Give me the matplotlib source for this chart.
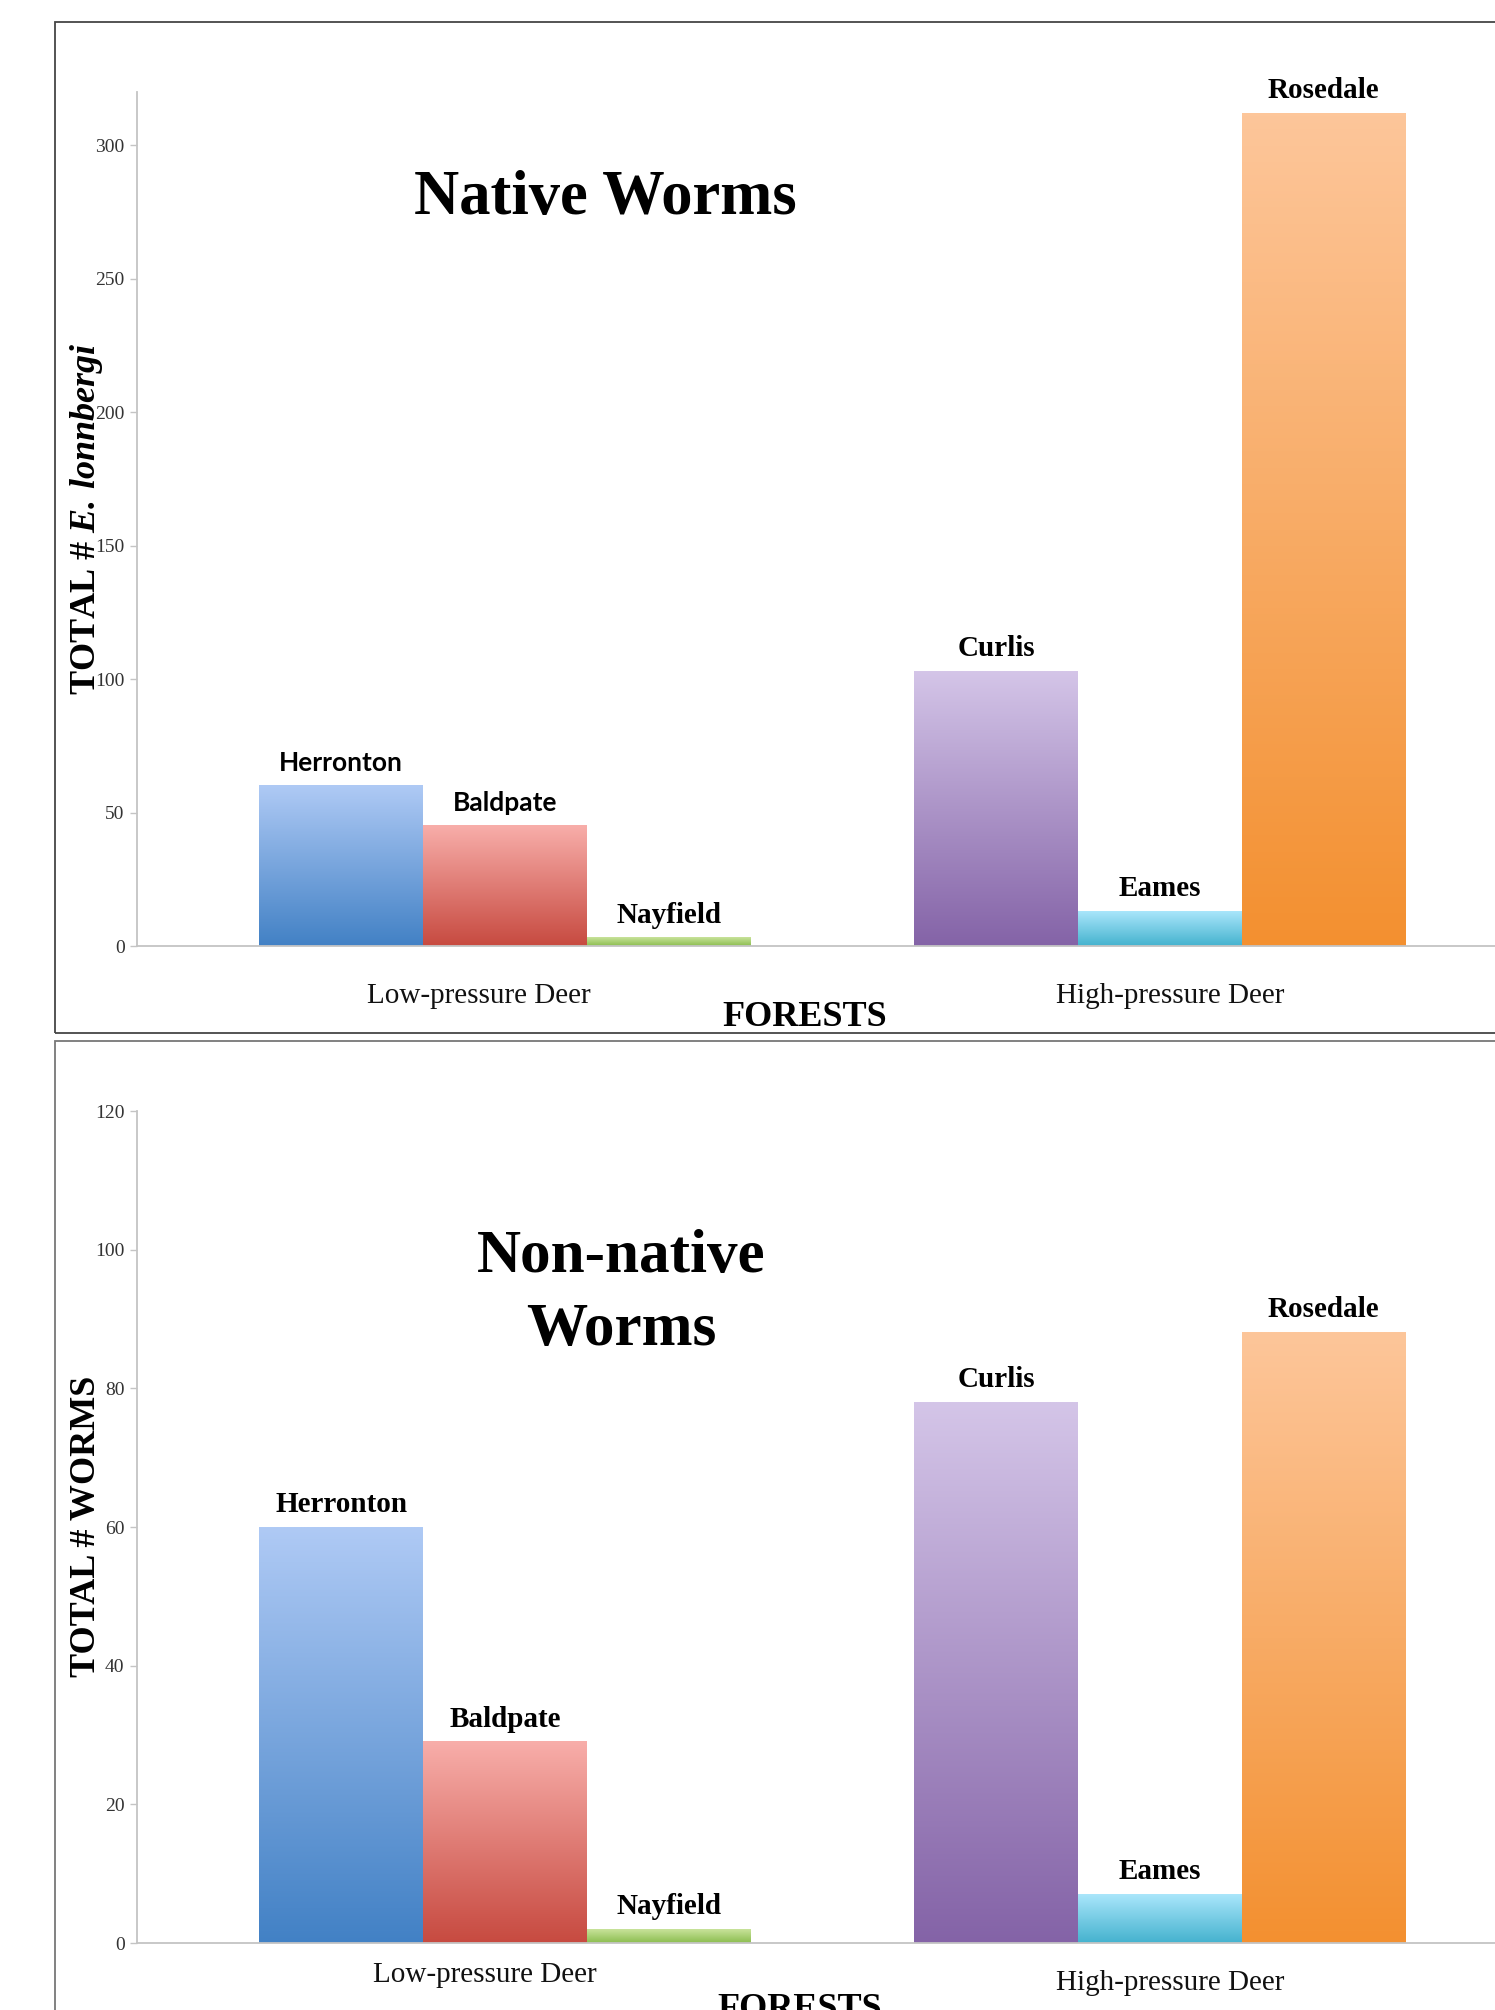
import numpy as np
import matplotlib.pyplot as plt
from matplotlib.colors import LinearSegmentedColormap
from matplotlib.patches import Rectangle

plt.rcParams['font.family'] = ['Liberation Serif', 'DejaVu Serif']
plt.rcParams['mathtext.fontset'] = 'custom'
plt.rcParams['mathtext.rm'] = 'Liberation Serif:bold'
plt.rcParams['mathtext.bf'] = 'Liberation Serif:bold'
plt.rcParams['mathtext.it'] = 'Liberation Serif:italic:bold'
plt.rcParams['mathtext.bfit'] = 'Liberation Serif:italic:bold'

# data
groups = ["Low-pressure Deer", "High-pressure Deer"]
forests = ["Herronton", "Baldpate", "Nayfield", "Curlis", "Eames", "Rosedale"]
forest_group = [0, 0, 0, 1, 1, 1]
forest_slot = [-1, 0, 1, -1, 0, 1]
native = [60, 45, 3, 103, 13, 312]
nonnative = [60, 29, 2, 78, 7, 88]
native_ticks = [0, 50, 100, 150, 200, 250, 300]
nonnative_ticks = [0, 20, 40, 60, 80, 100, 120]

# gradient colours (bottom, top) per forest
grad = [("#4281c5", "#afcaf5"),
        ("#c74a40", "#f8aeaa"),
        ("#8bbd4f", "#c9e39b"),
        ("#8463a7", "#d4c5e8"),
        ("#44b2ce", "#aae6fb"),
        ("#f39030", "#fdc69a")]

bar_w = 0.25
xmin, xmax = -0.562, 1.512

fig = plt.figure(figsize=(14.95, 20.10), dpi=100)

W, H = 1495.0, 2010.0
def fx(px):
    return px / W
def fy(py):
    return 1 - py / H

# panel frames
fig.add_artist(Rectangle((fx(55), fy(1033)), 1.0, fy(22) - fy(1033), transform=fig.transFigure,
                         fill=False, edgecolor='#454545', lw=1.3))
fig.add_artist(Rectangle((fx(55), -0.01), 1.0, fy(1041) + 0.01, transform=fig.transFigure,
                         fill=False, edgecolor='#777777', lw=1.3))


def panel(rect, vals, ymax, yticks, label_fams, cat_offsets):
    ax = fig.add_axes(rect)
    xs = [forest_group[i] + forest_slot[i] * bar_w for i in range(len(vals))]
    bars = ax.bar(xs, vals, width=bar_w, color='none', edgecolor='none')
    for b, (cb, ct) in zip(bars, grad):
        cmap = LinearSegmentedColormap.from_list('g', [cb, ct])
        x0 = b.get_x()
        ax.imshow(np.linspace(0, 1, 256).reshape(-1, 1), cmap=cmap, origin='lower',
                  aspect='auto', zorder=2,
                  extent=(x0, x0 + b.get_width(), 0, b.get_height()))
    for x, v, name, fam in zip(xs, vals, forests, label_fams):
        if fam == 'sans':
            ax.annotate(name, xy=(x, v), xytext=(0, 16.5), textcoords='offset points',
                        ha='center', va='center', fontsize=19, fontweight='bold',
                        family=['Lato', 'DejaVu Sans'])
        else:
            ax.annotate(name, xy=(x, v), xytext=(0, 16.5), textcoords='offset points',
                        ha='center', va='center', fontsize=21, fontweight='bold')
    for g, (dx, dy) in zip(range(len(groups)), cat_offsets):
        ax.annotate(groups[g], xy=(g, 0), xycoords=('data', 'axes fraction'),
                    xytext=(dx, dy), textcoords='offset points',
                    ha='center', va='baseline', fontsize=21, color='#111111',
                    annotation_clip=False)
    ax.set_xlim(xmin, xmax)
    ax.set_ylim(0, ymax)
    ax.set_yticks(yticks)
    ax.set_xticks([])
    for s in ['top', 'right']:
        ax.spines[s].set_visible(False)
    for s in ['left', 'bottom']:
        ax.spines[s].set_color('#c4c4c4')
        ax.spines[s].set_linewidth(1.3)
    ax.tick_params(axis='y', direction='out', length=5, width=1, color='#c4c4c4',
                   labelsize=14, labelcolor='#333333', pad=4)
    ax.set_facecolor('none')
    return ax


ax1 = panel([fx(137), fy(946), 1 - fx(137), fy(92) - fy(946)], native, 320, native_ticks,
            ['sans', 'sans', 'serif', 'serif', 'serif', 'serif'],
            [(-19, -41), (7.5, -41)])
ax2 = panel([fx(137), fy(1943), 1 - fx(137), fy(1111) - fy(1943)], nonnative, 120, nonnative_ticks,
            ['serif'] * 6,
            [(-14.5, -28), (7.5, -34)])

# titles
fig.text(fx(605), fy(214), "Native Worms", ha='center', va='baseline',
         fontsize=45, fontweight='bold')
fig.text(fx(621), fy(1272), "Non-native", ha='center', va='baseline',
         fontsize=44, fontweight='bold')
fig.text(fx(621), fy(1345), "Worms", ha='center', va='baseline',
         fontsize=44, fontweight='bold')

# axis titles
fig.text(fx(805), fy(1026), "FORESTS", ha='center', va='baseline',
         fontsize=26, fontweight='bold')
fig.text(fx(800), fy(2018), "FORESTS", ha='center', va='baseline',
         fontsize=26, fontweight='bold')
fig.text(fx(95), fy(519), r"TOTAL # $\mathbfit{E.}\,\mathbfit{lonnbergi}$", rotation=90,
         rotation_mode='anchor', ha='center', va='baseline', fontsize=26, fontweight='bold')
fig.text(fx(95), fy(1526), "TOTAL # WORMS", rotation=90,
         rotation_mode='anchor', ha='center', va='baseline', fontsize=26, fontweight='bold')

fig.savefig("out.png", dpi=100)
